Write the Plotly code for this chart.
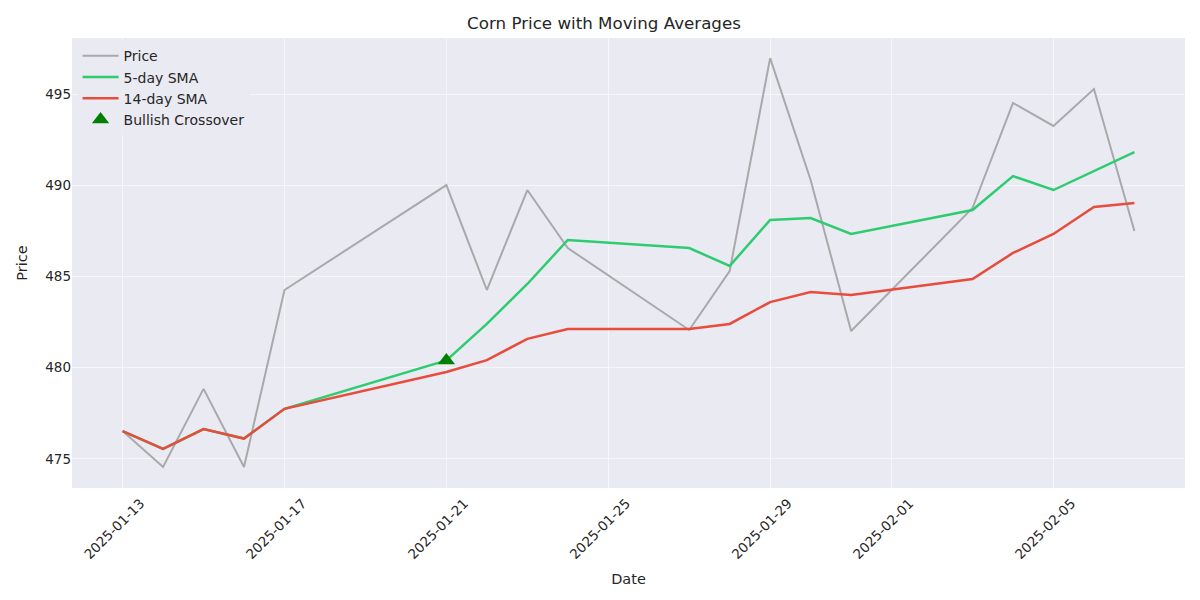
import plotly.graph_objects as go

dates = ['2025-01-13', '2025-01-14', '2025-01-15', '2025-01-16', '2025-01-17',
         '2025-01-21', '2025-01-22', '2025-01-23', '2025-01-24', '2025-01-27',
         '2025-01-28', '2025-01-29', '2025-01-30', '2025-01-31', '2025-02-03',
         '2025-02-04', '2025-02-05', '2025-02-06', '2025-02-07']
price = [476.53, 474.56, 478.84, 474.56, 484.26,
         490.01, 484.26, 489.74, 486.56, 482.07,
         485.30, 496.97, 490.29, 482.01, 488.75,
         494.51, 493.25, 495.27, 487.49]
sma5 = [476.53, 475.55, 476.64, 476.12, 477.75,
        480.40, 482.40, 484.59, 487.00, 486.56,
        485.58, 488.10, 488.20, 487.33, 488.64,
        490.50, 489.74, 490.78, 491.82]
sma14 = [476.53, 475.55, 476.64, 476.12, 477.75,
         479.77, 480.42, 481.58, 482.12, 482.12,
         482.40, 483.60, 484.15, 483.99, 484.86,
         486.29, 487.33, 488.81, 489.03]
cross_dates = ['2025-01-21']
cross_vals = [480.40]
tick_dates = ['2025-01-13', '2025-01-17', '2025-01-21', '2025-01-25',
              '2025-01-29', '2025-02-01', '2025-02-05']

fig = go.Figure()
fig.add_trace(go.Scatter(x=dates, y=price, mode='lines', name='Price',
                         line=dict(color='#a9a9ab', width=2)))
fig.add_trace(go.Scatter(x=dates, y=sma5, mode='lines', name='5-day SMA',
                         line=dict(color='#2ecc71', width=2.5)))
fig.add_trace(go.Scatter(x=dates, y=sma14, mode='lines', name='14-day SMA',
                         line=dict(color='#e74c3c', width=2.5)))
fig.add_trace(go.Scatter(x=cross_dates, y=cross_vals, mode='markers', name='Bullish Crossover',
                         marker=dict(symbol='triangle-up', color='#008000', size=15)))

# page body has an 8px margin, so the figure is shrunk and shifted to compensate
fig.update_layout(
    width=1192, height=592,
    paper_bgcolor='white', plot_bgcolor='#eaeaf2',
    font=dict(family='DejaVu Sans', color='#262626', size=13.5),
    title=dict(text='Corn Price with Moving Averages', x=0.5, xanchor='center',
               y=1 - 15 / 592, yanchor='middle', font=dict(size=16.7)),
    margin=dict(l=64, r=15, t=30, b=112),
    showlegend=True,
    legend=dict(x=0.005, y=0.995, xanchor='left', yanchor='top',
                bgcolor='rgba(234,234,242,0.8)', font=dict(size=14),
                itemwidth=36, tracegroupgap=0),
    xaxis=dict(title=dict(text='Date', font=dict(size=14.5), standoff=12),
               range=['2025-01-11 18:00', '2025-02-08 06:00'],
               tickvals=tick_dates, ticktext=tick_dates, tickangle=-45,
               ticklabelshift=18, ticklabelstandoff=4,
               showgrid=True, gridcolor='rgba(255,255,255,0.55)', gridwidth=1, zeroline=False,
               ticks='', ticklen=0, automargin=False),
    yaxis=dict(title=dict(text='Price', font=dict(size=14.5), standoff=14),
               range=[473.41, 498.07], tickvals=[475, 480, 485, 490, 495],
               showgrid=True, gridcolor='rgba(255,255,255,0.55)', gridwidth=1, zeroline=False,
               automargin=False),
)

fig.write_html("out.html")
